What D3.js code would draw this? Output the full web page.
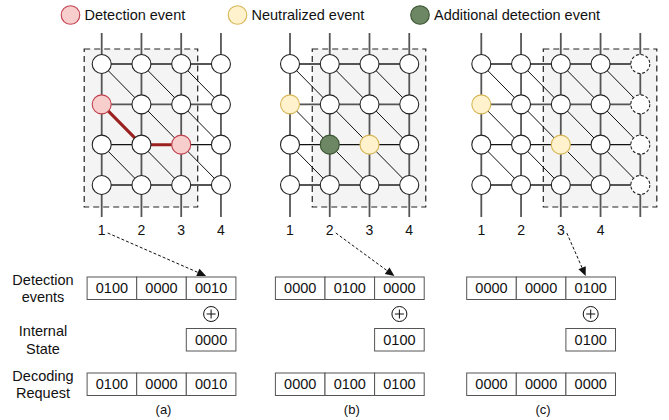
<!DOCTYPE html>
<html><head><meta charset="utf-8">
<script src="https://cdn.jsdelivr.net/npm/d3@7"></script>
<style>body{margin:0;background:#fff}svg{display:block}text{font-family:"Liberation Sans",Arial,Helvetica,sans-serif;fill:#111}</style>
</head><body>
<svg id="c" width="669" height="420"></svg>
<script>
// ---------- data ----------
const panels = ["(a)", "(b)", "(c)"];
const columnLabels = ["1", "2", "3", "4"];
const nodeRows = [0, 1, 2, 3];
const panelColumnCount = [4, 4, 5];
const windowStart = [0, 1, 2];          // first column in the dashed window
const windowWidth = 3;
const dashedColumns = [[], [], [4]];    // columns drawn with dashed nodes
const legendLabels = ["Detection event", "Neutralized event", "Additional detection event"];
const legendTypes = ["detection", "neutralized", "additional"];
const eventNodes = [
  [{row: 1, col: 0, type: "detection"}, {row: 2, col: 2, type: "detection"}],
  [{row: 1, col: 0, type: "neutralized"}, {row: 2, col: 2, type: "neutralized"}, {row: 2, col: 1, type: "additional"}],
  [{row: 1, col: 0, type: "neutralized"}, {row: 2, col: 2, type: "neutralized"}]
];
const matchingPath = [[], [[1, 0], [2, 1], [2, 2]]]; // only panel (a)
const matchingPaths = [[[1, 0], [2, 1], [2, 2]], [], []];
const detectionEvents = [["0100", "0000", "0010"], ["0000", "0100", "0000"], ["0000", "0000", "0100"]];
const internalState = ["0000", "0100", "0100"];
const decodingRequest = [["0100", "0000", "0010"], ["0000", "0100", "0100"], ["0000", "0000", "0000"]];
const rowLabels = [["Detection", "events"], ["Internal", "State"], ["Decoding", "Request"]];

// ---------- styles ----------
const fills = {detection: "#f8cecc", neutralized: "#fff2cc", additional: "#6d8764", normal: "#ffffff"};
const strokes = {detection: "#c0404e", neutralized: "#d6b656", additional: "#3a5431", normal: "#222"};

const svg = d3.select("#c");

// ---------- scales ----------
const panelX = d3.scaleOrdinal().domain(panels).range([101.7, 290, 481.3]);
const colX = d3.scaleLinear().domain([0, 1]).range([0, 39.75]);
const rowY = d3.scaleLinear().domain([0, 3]).range([64, 185]);
const boxX = d3.scaleLinear().domain([0, 1]).range([-14.6, 35]); // cell left edges relative to panel origin
const cellW = 49.6;
const rowBoxY = d3.scaleOrdinal().domain(["det", "int", "req"]).range([277, 328.5, 373]);
const cellH = 22.5;
const R = 9.5;

// ---------- legend ----------
const legendX = d3.scaleOrdinal().domain(legendLabels).range([70.5, 237.5, 420]);
const lg = svg.append("g");
legendLabels.forEach((lab, i) => {
  const cx = legendX(lab);
  lg.append("circle").attr("cx", cx).attr("cy", 15).attr("r", 9.3)
    .attr("fill", fills[legendTypes[i]]).attr("stroke", strokes[legendTypes[i]]).attr("stroke-width", 1.1);
  lg.append("text").attr("x", cx + 14).attr("y", 20).attr("font-size", 14.5).text(lab);
});

// ---------- panels ----------
panels.forEach((p, pi) => {
  const ox = panelX(p);
  const n = panelColumnCount[pi];
  const X = c => ox + colX(c);
  const g = svg.append("g");

  // window box
  const ws = windowStart[pi];
  g.append("rect")
    .attr("x", X(ws) - 17.5).attr("y", 49)
    .attr("width", colX(windowWidth - 1) + 17.5 + 16.5).attr("height", 158)
    .attr("fill", "#f4f4f4").attr("stroke", "#222").attr("stroke-width", 1.2)
    .attr("stroke-dasharray", "6,4");

  const cols = d3.range(n);
  // verticals
  cols.forEach(c => {
    g.append("line").attr("x1", X(c)).attr("x2", X(c)).attr("y1", 33).attr("y2", 217)
      .attr("stroke", "#555").attr("stroke-width", 1.8);
  });
  // horizontals
  nodeRows.forEach(r => {
    g.append("line").attr("x1", X(0)).attr("x2", X(n - 1)).attr("y1", rowY(r)).attr("y2", rowY(r))
      .attr("stroke", r === 2 ? "#111" : "#555").attr("stroke-width", r === 2 ? 1.2 : 1.8);
  });
  // diagonals
  nodeRows.slice(0, 3).forEach(r => {
    cols.slice(0, n - 1).forEach(c => {
      g.append("line").attr("x1", X(c)).attr("y1", rowY(r)).attr("x2", X(c + 1)).attr("y2", rowY(r + 1))
        .attr("stroke", "#111").attr("stroke-width", 1);
    });
  });
  // matching path
  const mp = matchingPaths[pi];
  if (mp.length) {
    g.append("path")
      .attr("d", d3.line().x(d => X(d[1])).y(d => rowY(d[0]))(mp))
      .attr("fill", "none").attr("stroke", "#9b2020").attr("stroke-width", 3);
  }
  // nodes
  nodeRows.forEach(r => {
    cols.forEach(c => {
      const ev = eventNodes[pi].find(e => e.row === r && e.col === c);
      const t = ev ? ev.type : "normal";
      const dashed = dashedColumns[pi].includes(c);
      g.append("circle").attr("cx", X(c)).attr("cy", rowY(r)).attr("r", R)
        .attr("fill", fills[t]).attr("stroke", strokes[t]).attr("stroke-width", 1.1)
        .attr("stroke-dasharray", dashed ? "3,2" : null);
    });
  });
  // column labels
  columnLabels.forEach((lab, c) => {
    g.append("text").attr("x", X(c)).attr("y", 234.5).attr("text-anchor", "middle")
      .attr("font-size", 14).text(lab);
  });

  // register boxes
  const drawCells = (vals, startIdx, y) => {
    vals.forEach((v, k) => {
      const bx = ox + boxX(startIdx + k);
      g.append("rect").attr("x", bx).attr("y", y).attr("width", cellW).attr("height", cellH)
        .attr("fill", "#fff").attr("stroke", "#555").attr("stroke-width", 1);
      g.append("text").attr("x", bx + cellW / 2).attr("y", y + cellH / 2 + 5)
        .attr("text-anchor", "middle").attr("font-size", 14.5).text(v);
    });
  };
  drawCells(detectionEvents[pi], 0, rowBoxY("det"));
  drawCells([internalState[pi]], 2, rowBoxY("int"));
  drawCells(decodingRequest[pi], 0, rowBoxY("req"));

  // xor symbol
  const xc = ox + boxX(2) + cellW / 2, yc = 314;
  g.append("circle").attr("cx", xc).attr("cy", yc).attr("r", 7.5).attr("fill", "#fff").attr("stroke", "#111").attr("stroke-width", 1);
  g.append("line").attr("x1", xc - 4.5).attr("x2", xc + 4.5).attr("y1", yc).attr("y2", yc).attr("stroke", "#111").attr("stroke-width", 1);
  g.append("line").attr("x1", xc).attr("x2", xc).attr("y1", yc - 4.5).attr("y2", yc + 4.5).attr("stroke", "#111").attr("stroke-width", 1);

  // dashed arrow from window start label to the newest cell
  const sx = X(ws) + 6, sy = 233;
  const ex = xc - 5, ey = rowBoxY("det") - 1;
  const ang = Math.atan2(ey - sy, ex - sx);
  const L = 9, W = 4;
  const bx0 = ex - L * Math.cos(ang), by0 = ey - L * Math.sin(ang);
  g.append("line").attr("x1", sx).attr("y1", sy).attr("x2", bx0).attr("y2", by0)
    .attr("stroke", "#111").attr("stroke-width", 1).attr("stroke-dasharray", "3,2");
  g.append("path").attr("d", d3.line()([
      [ex, ey],
      [bx0 + W * Math.sin(ang), by0 - W * Math.cos(ang)],
      [bx0 - W * Math.sin(ang), by0 + W * Math.cos(ang)]
    ]) + "Z").attr("fill", "#111");

  // panel caption
  g.append("text").attr("x", ox + boxX(0) + cellW * 1.5 + 2).attr("y", 414)
    .attr("text-anchor", "middle").attr("font-size", 13).text(p);
});

// row labels
const rowLabelY = d3.scaleOrdinal().domain(["det", "int", "req"]).range([288, 339.5, 384]);
["det", "int", "req"].forEach((k, i) => {
  const t = svg.append("text").attr("x", 43).attr("text-anchor", "middle").attr("font-size", 14.5);
  rowLabels[i].forEach((line, j) => {
    t.append("tspan").attr("x", 43).attr("y", rowLabelY(k) - 3.5 + (j === 0 ? 0 : 17.5)).text(line);
  });
});
</script>
</body></html>
